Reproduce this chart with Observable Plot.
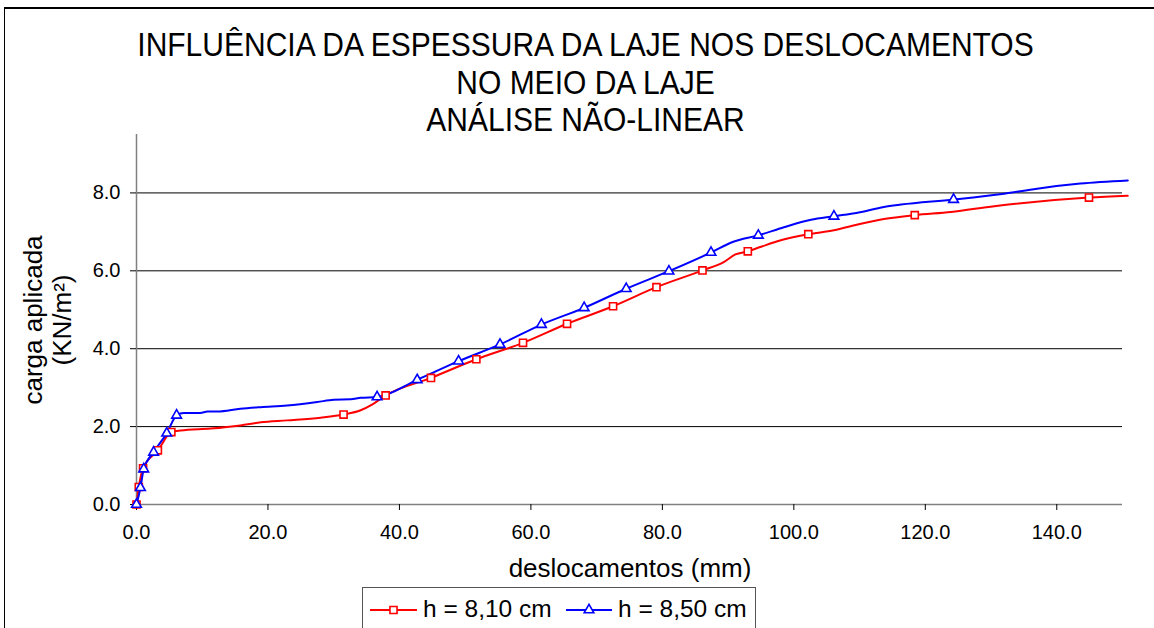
<!DOCTYPE html>
<html>
<head>
<meta charset="utf-8">
<script src="https://cdn.jsdelivr.net/npm/d3@7"></script>
<script src="https://cdn.jsdelivr.net/npm/@observablehq/plot@0.6"></script>
<style>
  html, body { margin: 0; padding: 0; background: #fff; }
  #wrap { position: relative; width: 1154px; height: 628px; overflow: hidden; background: #fff;
          font-family: "Liberation Sans", Arial, Helvetica, sans-serif; color: #000; }
  #wrap svg { position: absolute; left: 0; top: 0; }
  .abs { position: absolute; white-space: nowrap; }
  #title { left: 0; width: 1171px; top: 26px; text-align: center; font-size: 30px; line-height: 37.5px; }
  #title span { display: inline-block; transform: scaleY(1.1); }
  #ylab { left: 47.5px; top: 320px; transform: translate(-50%, -50%) rotate(-90deg); text-align: center;
          font-size: 26px; line-height: 29px; }
  #xlab { left: 0; width: 1260px; top: 553.5px; text-align: center; font-size: 26px; line-height: 29px; }
  #frameTop { left: 4px; top: 7px; width: 1150px; height: 0; border-top: 2px solid #000; }
  #frameLeft { left: 4px; top: 7px; width: 0; height: 621px; border-left: 1px solid #000; }
  #legend { left: 362px; top: 587px; width: 394px; height: 60px; border: 1.5px solid #555; box-sizing: border-box; }
  .legtxt { font-size: 24.5px; line-height: 30px; top: 594px; }
</style>
</head>
<body>
<div id="wrap">
  <div class="abs" id="frameTop"></div>
  <div class="abs" id="frameLeft"></div>
  <div class="abs" id="title"><span>INFLUÊNCIA DA ESPESSURA DA LAJE NOS DESLOCAMENTOS</span><br><span>NO MEIO DA LAJE</span><br><span>ANÁLISE NÃO-LINEAR</span></div>
  <div class="abs" id="ylab">carga aplicada<br>(KN/m²)</div>
  <div class="abs" id="xlab">deslocamentos (mm)</div>
  <div class="abs" id="legend"></div>
</div>
<script>
// ---- data ----
const seriesNames = ["h = 8,10 cm", "h = 8,50 cm"];
const seriesColors = ["#ff0000", "#0000ff"];

// h = 8,10 cm : curve points
const redX = [0, 0.35, 1.0, 3.25, 5.3, 6.7, 11.3, 15.8, 18.9, 22.9, 28.0, 31.5, 34.1, 35.9, 37.9, 44.8, 51.7, 58.8, 65.5, 72.5, 79.1, 86.1, 89.4, 91.1, 93.0, 94.9, 97.5, 102.2, 106.1, 109.7, 113.7, 118.4, 123.9, 130.5, 144.9, 150.8];
const redY = [0, 0.45, 0.93, 1.39, 1.86, 1.90, 1.95, 2.03, 2.11, 2.16, 2.23, 2.31, 2.42, 2.57, 2.80, 3.25, 3.73, 4.15, 4.64, 5.09, 5.58, 6.01, 6.23, 6.42, 6.50, 6.61, 6.76, 6.94, 7.04, 7.19, 7.33, 7.43, 7.51, 7.66, 7.88, 7.93];
// h = 8,10 cm : marked points
const redMarkX = [0, 0.35, 1.0, 3.25, 5.3, 31.5, 37.9, 44.8, 51.7, 58.8, 65.5, 72.5, 79.1, 86.1, 93.0, 102.2, 118.4, 144.9];
const redMarkY = [0, 0.45, 0.93, 1.39, 1.86, 2.31, 2.80, 3.25, 3.73, 4.15, 4.64, 5.09, 5.58, 6.01, 6.50, 6.94, 7.43, 7.88];

// h = 8,50 cm : curve points
const blueX = [0, 0.6, 1.1, 2.6, 4.6, 6.1, 7.2, 9.7, 10.8, 12.3, 15.8, 18.9, 22.9, 27.5, 30.0, 32.6, 34.1, 36.6, 42.7, 49.0, 55.3, 61.6, 68.1, 74.5, 81.0, 87.4, 90.7, 94.6, 98.5, 102.6, 106.1, 109.7, 113.7, 116.3, 124.3, 132.0, 137.0, 143.6, 150.8];
const blueY = [0, 0.43, 0.91, 1.34, 1.83, 2.29, 2.35, 2.35, 2.39, 2.39, 2.46, 2.50, 2.54, 2.63, 2.69, 2.70, 2.74, 2.76, 3.20, 3.68, 4.11, 4.62, 5.05, 5.54, 5.99, 6.47, 6.74, 6.91, 7.12, 7.31, 7.40, 7.49, 7.64, 7.70, 7.83, 7.98, 8.11, 8.24, 8.32];
// h = 8,50 cm : marked points
const blueMarkX = [0, 0.6, 1.1, 2.6, 4.6, 6.1, 36.6, 42.7, 49.0, 55.3, 61.6, 68.1, 74.5, 81.0, 87.4, 94.6, 106.1, 124.3];
const blueMarkY = [0, 0.43, 0.91, 1.34, 1.83, 2.29, 2.76, 3.20, 3.68, 4.11, 4.62, 5.05, 5.54, 5.99, 6.47, 6.91, 7.40, 7.83];

const xTicks = [0, 20, 40, 60, 80, 100, 120, 140];
const yTicks = [0, 2, 4, 6, 8];
const yGrid = [2, 4, 6, 8];

// ---- build tables ----
const toRows = (xs, ys, s) => xs.map((x, i) => ({x, y: ys[i], s}));
const redLine = toRows(redX, redY, seriesNames[0]);
const blueLine = toRows(blueX, blueY, seriesNames[1]);
const redMarks = toRows(redMarkX, redMarkY, seriesNames[0]);
const blueMarks = toRows(blueMarkX, blueMarkY, seriesNames[1]);

const chart = Plot.plot({
  width: 1154,
  height: 628,
  marginLeft: 136,
  marginRight: 32,
  marginTop: 134,
  marginBottom: 124,
  style: {fontFamily: '"Liberation Sans", Arial, sans-serif', fontSize: "20px", background: "transparent", color: "#000"},
  x: {domain: [0, 150]},
  y: {domain: [0, 9.5]},
  marks: [
    Plot.ruleY(yGrid, {stroke: "#000", strokeWidth: 1}),
    Plot.ruleY([0], {stroke: "#808080", strokeWidth: 1.5}),
    Plot.ruleX([0], {stroke: "#808080", strokeWidth: 1.5}),
    Plot.axisX({ticks: xTicks, tickFormat: d3.format(".1f"), tickSize: 6, tickPadding: 14, label: null, stroke: "#000", fontSize: 20}),
    Plot.axisY({ticks: yTicks, tickFormat: d3.format(".1f"), tickSize: 6, tickPadding: 10, label: null, stroke: "#000", fontSize: 20}),
    Plot.line(redLine, {x: "x", y: "y", stroke: seriesColors[0], strokeWidth: 2, curve: "monotone-x"}),
    Plot.line(blueLine, {x: "x", y: "y", stroke: seriesColors[1], strokeWidth: 2, curve: "monotone-x"}),
    Plot.dot(redMarks, {x: "x", y: "y", symbol: "square", r: 4, stroke: seriesColors[0], fill: "#fff", strokeWidth: 1.6}),
    Plot.dot(blueMarks, {x: "x", y: "y", symbol: "triangle", r: 3.6, stroke: seriesColors[1], fill: "#fff", strokeWidth: 1.6})
  ]
});
const wrap = document.getElementById("wrap");
wrap.insertBefore(chart, wrap.firstChild);

// ---- legend ----
const legendItems = [
  {name: seriesNames[0], color: seriesColors[0], sym: "square", x0: 370, x1: 417, tx: 423},
  {name: seriesNames[1], color: seriesColors[1], sym: "triangle", x0: 566, x1: 612, tx: 618}
];
const ns = "http://www.w3.org/2000/svg";
const lsvg = document.createElementNS(ns, "svg");
lsvg.setAttribute("width", 1154);
lsvg.setAttribute("height", 628);
lsvg.style.position = "absolute"; lsvg.style.left = "0"; lsvg.style.top = "0";
for (const it of legendItems) {
  const ln = document.createElementNS(ns, "line");
  ln.setAttribute("x1", it.x0); ln.setAttribute("x2", it.x1);
  ln.setAttribute("y1", 610); ln.setAttribute("y2", 610);
  ln.setAttribute("stroke", it.color); ln.setAttribute("stroke-width", 2);
  lsvg.appendChild(ln);
  const p = document.createElementNS(ns, "path");
  const symType = it.sym === "square" ? d3.symbolSquare : d3.symbolTriangle;
  const size = it.sym === "square" ? Math.PI * 4 * 4 : Math.PI * 3.6 * 3.6;
  p.setAttribute("d", d3.symbol(symType, size)());
  p.setAttribute("transform", `translate(${(it.x0 + it.x1) / 2},610)`);
  p.setAttribute("fill", "#fff"); p.setAttribute("stroke", it.color); p.setAttribute("stroke-width", 1.6);
  lsvg.appendChild(p);
  const t = document.createElement("div");
  t.className = "abs legtxt";
  t.style.left = it.tx + "px";
  t.textContent = it.name;
  wrap.appendChild(t);
}
wrap.appendChild(lsvg);
</script>
</body>
</html>
